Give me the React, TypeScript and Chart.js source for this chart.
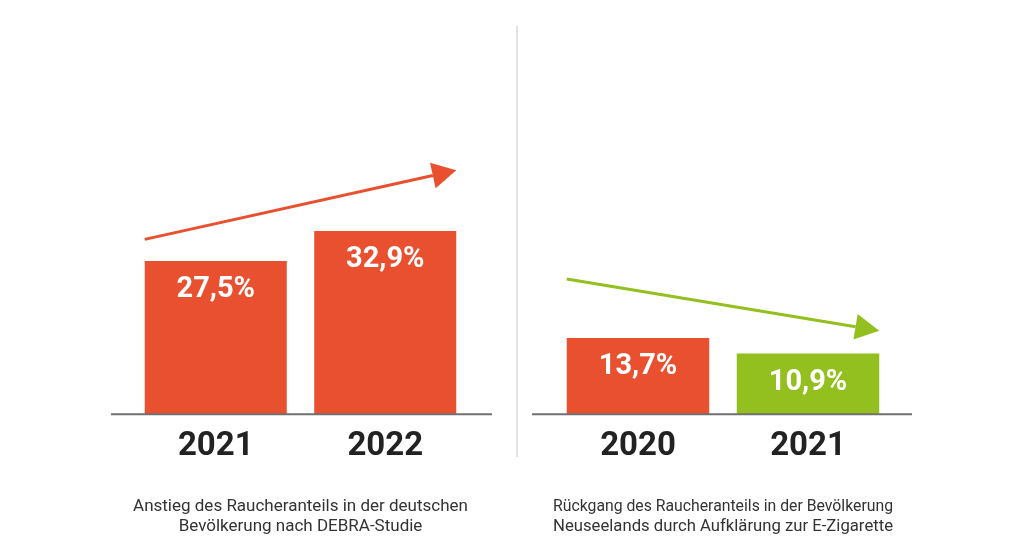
import React, { useEffect, useRef } from 'react';
import { Chart, registerables } from 'chart.js';

Chart.register(...registerables);

const leftYears = ['2021', '2022'];
const leftValues = [27.5, 32.9];
const leftColors = ['#E8502F', '#E8502F'];
const leftArrow = [31.4, 43.8];
const leftArrowColor = '#E8502F';
const leftCaption = ['Anstieg des Raucheranteils in der deutschen', 'Bevölkerung nach DEBRA-Studie'];

const rightYears = ['2020', '2021'];
const rightValues = [13.7, 10.9];
const rightColors = ['#E8502F', '#93C01F'];
const rightArrow = [24.3, 15.0];
const rightArrowColor = '#93C01F';
const rightCaption = ['Rückgang des Raucheranteils in der Bevölkerung', 'Neuseelands durch Aufklärung zur E-Zigarette'];

const yMax = 60;

const fmt = (v: number) => v.toFixed(1).replace('.', ',') + '%';

const decorPlugin = {
  id: 'panelDecor',
  afterDatasetsDraw(chart: any, _args: any, opts: any) {
    const { ctx, chartArea, scales } = chart;
    const bars = chart.getDatasetMeta(0).data;
    const values = chart.data.datasets[0].data as number[];
    ctx.save();
    // baseline
    ctx.strokeStyle = '#707070';
    ctx.lineWidth = 2;
    ctx.beginPath();
    ctx.moveTo(0, chartArea.bottom);
    ctx.lineTo(chart.width, chartArea.bottom);
    ctx.stroke();
    // value labels
    ctx.fillStyle = '#ffffff';
    ctx.font = 'bold 29px Roboto';
    ctx.textAlign = 'center';
    ctx.textBaseline = 'middle';
    bars.forEach((b: any, i: number) => {
      const p = b.getProps(['x', 'y'], true);
      ctx.fillText(fmt(values[i]), p.x, p.y + 29);
    });
    // arrow
    const b0 = bars[0].getProps(['x', 'width'], true);
    const b1 = bars[bars.length - 1].getProps(['x', 'width'], true);
    const x0 = b0.x - b0.width / 2;
    const x1 = b1.x + b1.width / 2;
    const y0 = scales.y.getPixelForValue(opts.arrow[0]);
    const y1 = scales.y.getPixelForValue(opts.arrow[1]);
    const ang = Math.atan2(y1 - y0, x1 - x0);
    const headLen = 24;
    const half = 13;
    const bx = x1 - headLen * Math.cos(ang);
    const by = y1 - headLen * Math.sin(ang);
    ctx.strokeStyle = opts.color;
    ctx.fillStyle = opts.color;
    ctx.lineWidth = 3;
    ctx.beginPath();
    ctx.moveTo(x0, y0);
    ctx.lineTo(bx, by);
    ctx.stroke();
    ctx.beginPath();
    ctx.moveTo(x1, y1);
    ctx.lineTo(bx + half * Math.sin(ang), by - half * Math.cos(ang));
    ctx.lineTo(bx - half * Math.sin(ang), by + half * Math.cos(ang));
    ctx.closePath();
    ctx.fill();
    ctx.restore();
  },
};

type PanelProps = {
  years: string[];
  values: number[];
  colors: string[];
  arrow: number[];
  arrowColor: string;
  caption: string[];
  left: number;
  width: number;
  padLeft: number;
  padRight: number;
};

function Panel(props: PanelProps) {
  const ref = useRef<HTMLCanvasElement | null>(null);
  useEffect(() => {
    if (!ref.current) return;
    const chart = new Chart(ref.current, {
      type: 'bar',
      data: {
        labels: props.years,
        datasets: [
          {
            data: props.values,
            backgroundColor: props.colors,
            borderWidth: 0,
            categoryPercentage: 1,
            barPercentage: 0.838,
          },
        ],
      },
      options: {
        animation: false,
        responsive: false,
        devicePixelRatio: 1,
        layout: { padding: { left: props.padLeft, right: props.padRight, top: 80, bottom: 20 } },
        plugins: {
          legend: { display: false },
          tooltip: { enabled: false },
          panelDecor: { arrow: props.arrow, color: props.arrowColor },
        } as any,
        scales: {
          y: { display: false, min: 0, max: yMax },
          x: {
            grid: { display: false, drawTicks: false },
            border: { display: false },
            ticks: {
              color: '#222222',
              padding: 13,
              font: { family: 'Roboto', size: 33, weight: 'bold', lineHeight: 1.2 },
            },
            title: {
              display: true,
              text: props.caption,
              color: '#333333',
              font: { family: 'Roboto', size: 17, lineHeight: 1.18 },
              padding: { top: 17, bottom: 0 },
            },
          },
        },
      },
      plugins: [decorPlugin],
    });
    return () => chart.destroy();
  }, []);
  return (
    <canvas
      ref={ref}
      width={props.width}
      height={557}
      style={{ position: 'absolute', left: props.left, top: 0, width: props.width, height: 557 }}
    />
  );
}

export default function App() {
  return (
    <div style={{ position: 'absolute', left: 0, top: 0, width: 1024, height: 557, background: '#ffffff', overflow: 'hidden' }}>
      <div style={{ position: 'absolute', left: 516, top: 26, width: 2, height: 431, background: '#e2e2e2' }} />
      <Panel
        years={leftYears}
        values={leftValues}
        colors={leftColors}
        arrow={leftArrow}
        arrowColor={leftArrowColor}
        caption={leftCaption}
        left={111}
        width={381}
        padLeft={20}
        padRight={22}
      />
      <Panel
        years={rightYears}
        values={rightValues}
        colors={rightColors}
        arrow={rightArrow}
        arrowColor={rightArrowColor}
        caption={rightCaption}
        left={532}
        width={380}
        padLeft={21}
        padRight={19}
      />
    </div>
  );
}
